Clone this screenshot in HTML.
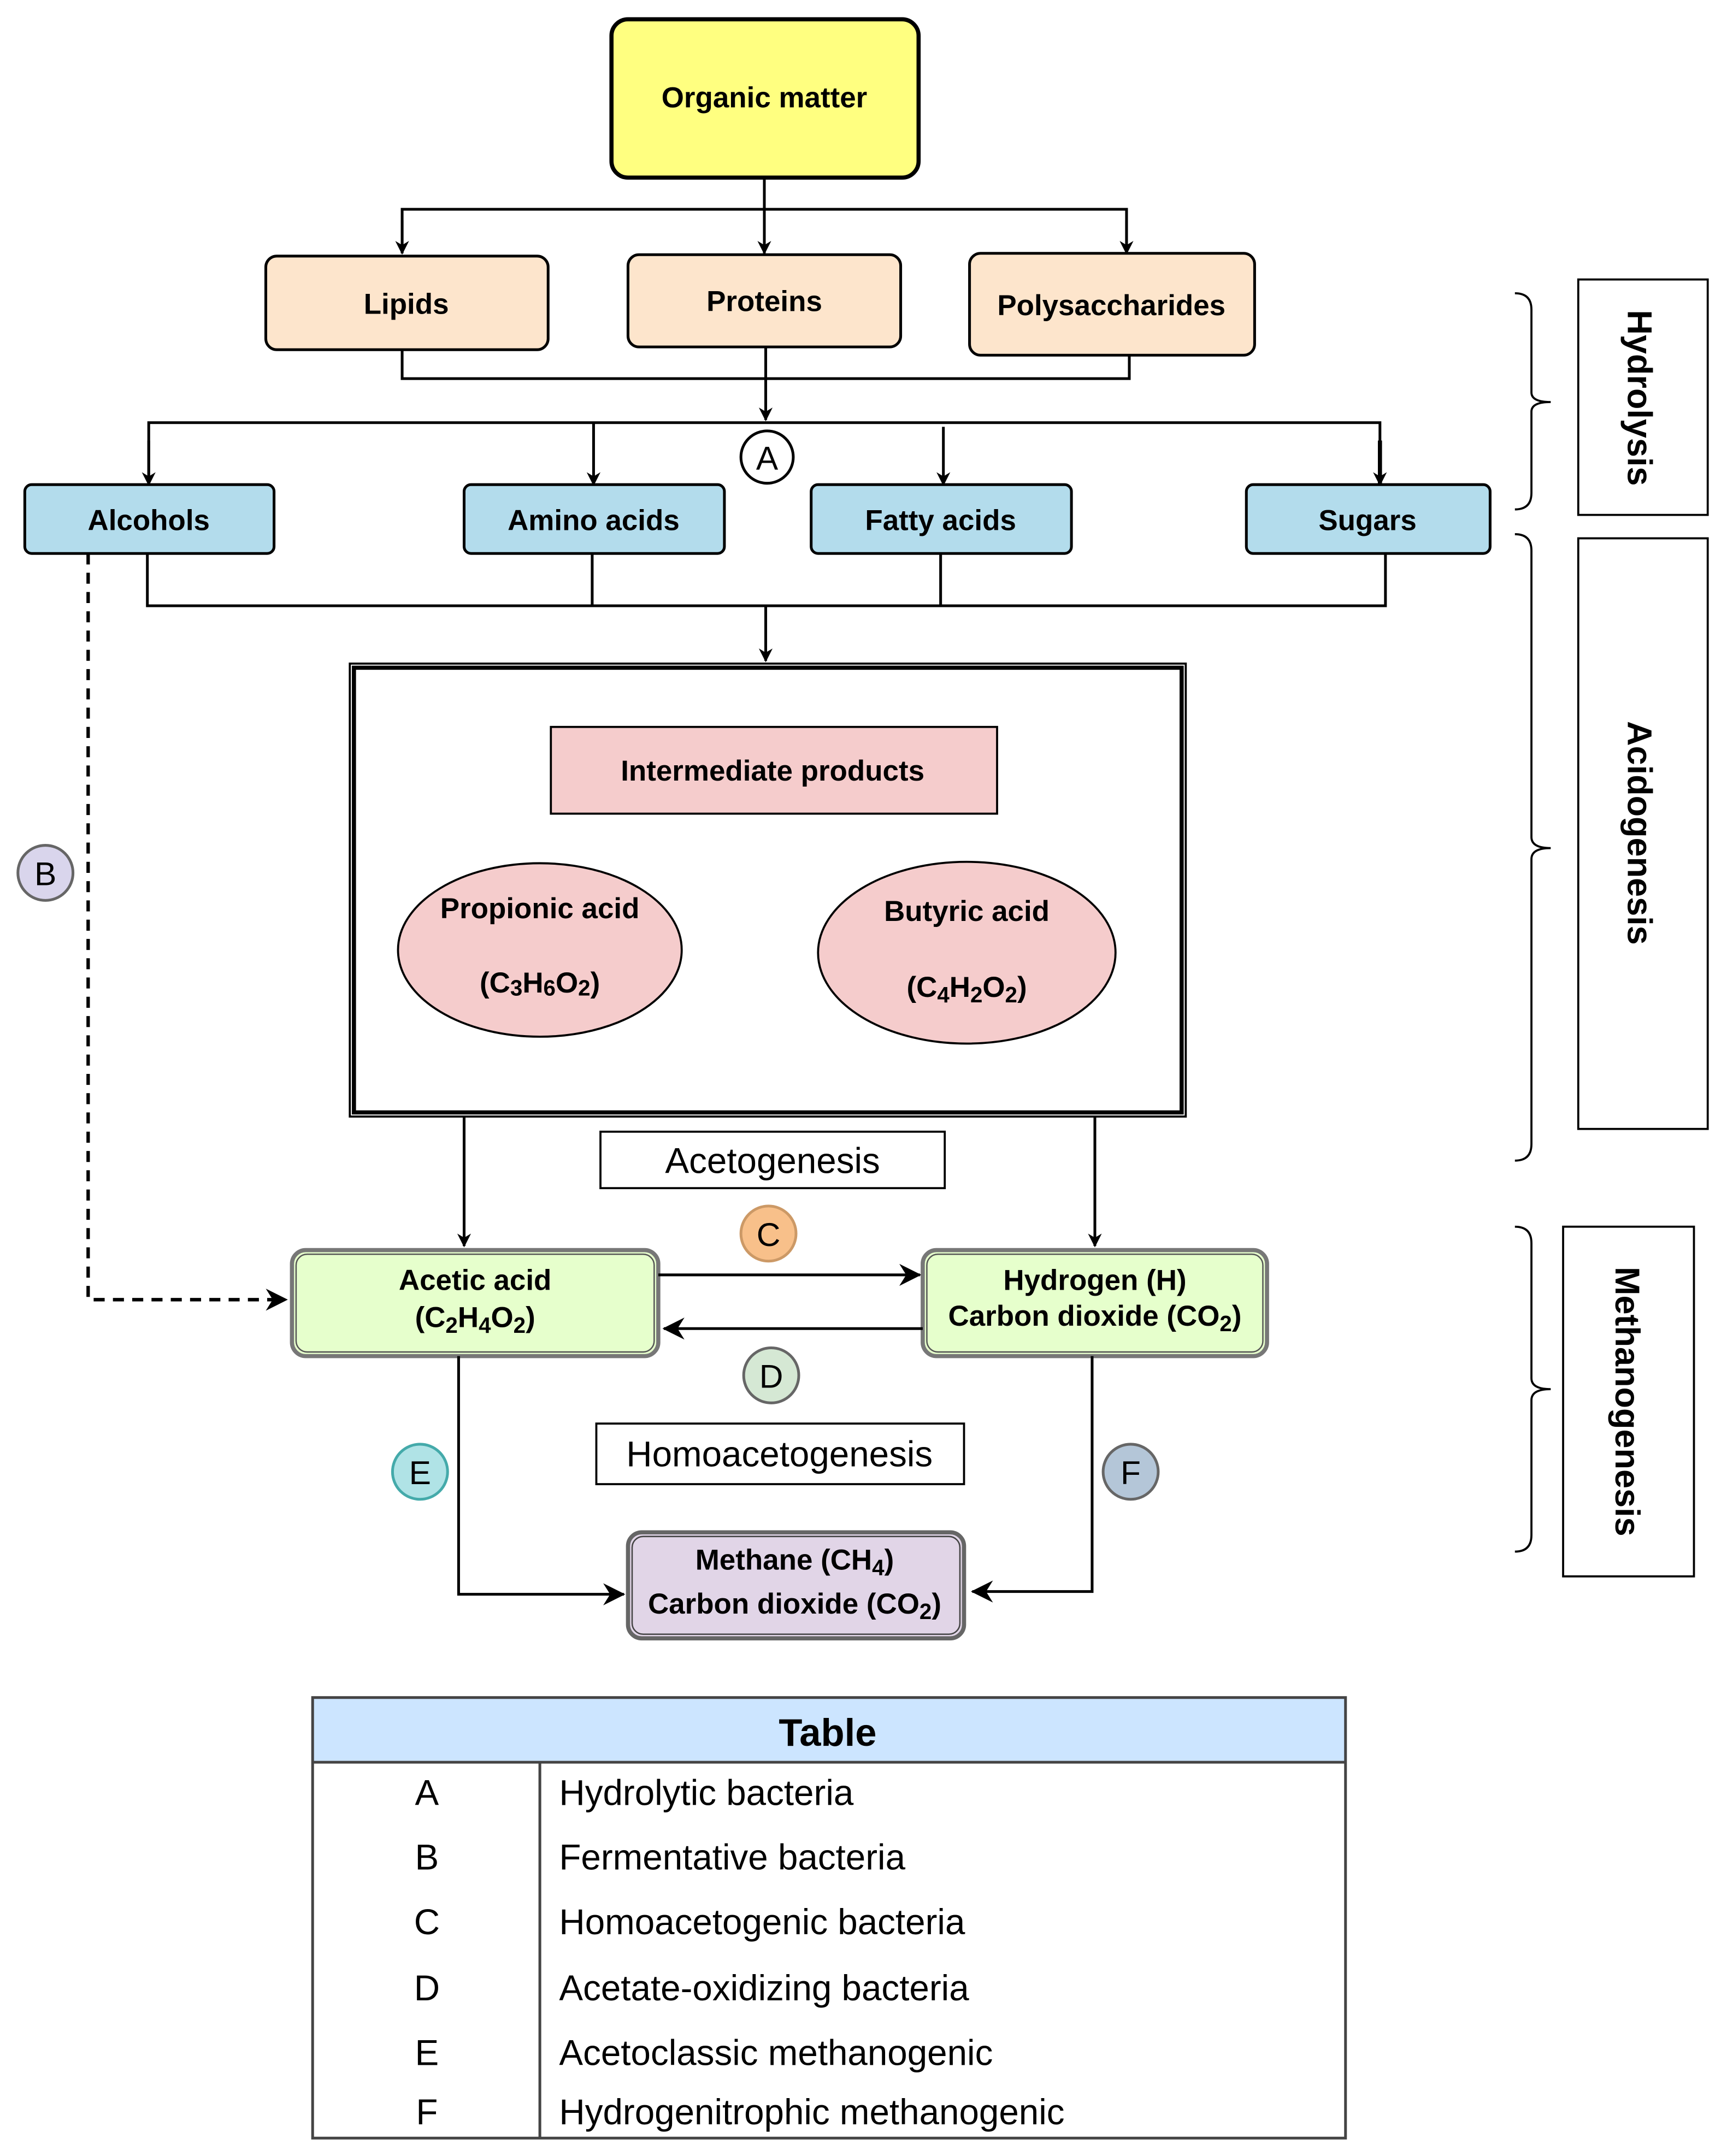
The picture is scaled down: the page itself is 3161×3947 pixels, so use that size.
<!DOCTYPE html>
<html><head><meta charset="utf-8"><style>
html,body{margin:0;padding:0;background:#fff}
svg{display:block}
text{font-family:"Liberation Sans",sans-serif;fill:#000}
</style></head><body>
<svg width="3161" height="3947" viewBox="0 0 1254 1566" preserveAspectRatio="none" xmlns="http://www.w3.org/2000/svg">
<defs>
<marker id="ar" markerWidth="10" markerHeight="10" refX="9" refY="5" orient="auto" markerUnits="userSpaceOnUse" viewBox="0 0 10 10">
<path d="M0,0 L10,5 L0,10 L3,5 Z" fill="#000"/></marker>
<marker id="ar2" markerWidth="16" markerHeight="16" refX="15" refY="8" orient="auto" markerUnits="userSpaceOnUse" viewBox="0 0 16 16">
<path d="M0,0 L16,8 L0,16 L5,8 Z" fill="#000"/></marker>
</defs>
<g stroke="#000" stroke-width="2" fill="none">
<rect x="444" y="14" width="223" height="115" rx="12" fill="#ffff80" stroke-width="3"/>
<path d="M555,129 V184" marker-end="url(#ar)"/>
<path d="M292,184 V152 H818 V184" />
<path d="M292,160 V184" marker-end="url(#ar)"/>
<path d="M818,160 V184" marker-end="url(#ar)"/>
<rect x="193" y="186" width="205" height="68" rx="8" fill="#fde5cc"/>
<rect x="456" y="185" width="198" height="67" rx="8" fill="#fde5cc"/>
<rect x="704" y="184" width="207" height="74" rx="8" fill="#fde5cc"/>
<path d="M292,254 V275 H820 V258"/>
<path d="M556,252 V305" marker-end="url(#ar)"/>
<path d="M108,352 V307 H1002 V352"/>
<path d="M108,320 V352" marker-end="url(#ar)"/>
<path d="M431,307 V352" marker-end="url(#ar)"/>
<path d="M685,310 V352" marker-end="url(#ar)"/>
<path d="M1002,320 V352" marker-end="url(#ar)" stroke-width="3"/>
<circle cx="557" cy="332" r="19" fill="#fff"/>
<rect x="18" y="352" width="181" height="50" rx="5" fill="#b3dcec"/>
<rect x="337" y="352" width="189" height="50" rx="5" fill="#b3dcec"/>
<rect x="589" y="352" width="189" height="50" rx="5" fill="#b3dcec"/>
<rect x="905" y="352" width="177" height="50" rx="5" fill="#b3dcec"/>
<path d="M107,402 V440 H1006 V402 M430,402 V440 M683,402 V440"/>
<path d="M556,440 V480" marker-end="url(#ar)"/>
<rect x="254" y="482" width="607" height="329" stroke-width="1.5"/>
<rect x="257" y="485" width="601" height="323" stroke-width="3"/>
<rect x="400" y="528" width="324" height="63" fill="#f5cccc" stroke-width="1.5"/>
<ellipse cx="392" cy="690" rx="103" ry="63" fill="#f5cccc" stroke-width="1.5"/>
<ellipse cx="702" cy="692" rx="108" ry="66" fill="#f5cccc" stroke-width="1.5"/>
<rect x="436" y="822" width="250" height="41" stroke-width="1.5"/>
<path d="M337,811 V905" marker-end="url(#ar)"/>
<path d="M795,811 V905" marker-end="url(#ar)"/>
<circle cx="33" cy="634" r="20" fill="#d9d5ec" stroke="#666"/>
<path d="M64,402 V944 H208" stroke-dasharray="8,6" stroke-width="2.5" marker-end="url(#ar2)"/>
<rect x="212" y="908" width="266" height="77" rx="10" fill="#e6ffcc" stroke="#777" stroke-width="3"/>
<rect x="215" y="911" width="260" height="71" rx="8" stroke="#555" stroke-width="1"/>
<rect x="670" y="908" width="250" height="77" rx="10" fill="#e6ffcc" stroke="#777" stroke-width="3"/>
<rect x="673" y="911" width="244" height="71" rx="8" stroke="#555" stroke-width="1"/>
<path d="M478,926 H668" marker-end="url(#ar2)"/>
<path d="M670,965 H482" marker-end="url(#ar2)"/>
<circle cx="558" cy="896" r="20" fill="#f8c08a" stroke="#c96"/>
<circle cx="560" cy="999" r="20" fill="#d5e8d4" stroke="#666"/>
<rect x="433" y="1034" width="267" height="44" stroke-width="1.5"/>
<circle cx="305" cy="1069" r="20" fill="#b0e3e6" stroke="#4aa"/>
<circle cx="821" cy="1069" r="20" fill="#b4c6d8" stroke="#666"/>
<path d="M333,985 V1158 H453" marker-end="url(#ar2)"/>
<path d="M793,985 V1156 H706" marker-end="url(#ar2)"/>
<rect x="456" y="1113" width="244" height="77" rx="10" fill="#e1d5e7" stroke="#666" stroke-width="3"/>
<rect x="459" y="1116" width="238" height="71" rx="8" stroke="#444" stroke-width="1"/>
<path d="M1100,213 Q1112,213 1112,225 V285 Q1112,292 1126,292 Q1112,292 1112,299 V358 Q1112,370 1100,370" stroke-width="1.5"/>
<path d="M1100,388 Q1112,388 1112,400 V608 Q1112,616 1126,616 Q1112,616 1112,624 V831 Q1112,843 1100,843" stroke-width="1.5"/>
<path d="M1100,891 Q1112,891 1112,903 V1001 Q1112,1009 1126,1009 Q1112,1009 1112,1017 V1115 Q1112,1127 1100,1127" stroke-width="1.5"/>
<rect x="1146" y="203" width="94" height="171" stroke-width="1.5"/>
<rect x="1146" y="391" width="94" height="429" stroke-width="1.5"/>
<rect x="1135" y="891" width="95" height="254" stroke-width="1.5"/>
<rect x="227" y="1233" width="750" height="47" fill="#cce5ff" stroke="none"/>
<rect x="227" y="1233" width="750" height="320" stroke="#444"/>
<path d="M227,1280 H977 M392,1280 V1553" stroke="#444"/>
</g>
<g font-weight="bold" font-size="21" text-anchor="middle">
<text x="555" y="78">Organic matter</text>
<text x="295" y="228">Lipids</text>
<text x="555" y="226">Proteins</text>
<text x="807" y="229">Polysaccharides</text>
<text x="108" y="385">Alcohols</text>
<text x="431" y="385">Amino acids</text>
<text x="683" y="385">Fatty acids</text>
<text x="993" y="385">Sugars</text>
<text x="561" y="567">Intermediate products</text>
<text x="392" y="667">Propionic acid</text>
<text x="392" y="721">(C<tspan font-size="16" dy="2">3</tspan><tspan dy="-2">H</tspan><tspan font-size="16" dy="2">6</tspan><tspan dy="-2">O</tspan><tspan font-size="16" dy="2">2</tspan><tspan dy="-2">)</tspan></text>
<text x="702" y="669">Butyric acid</text>
<text x="702" y="724">(C<tspan font-size="16" dy="4">4</tspan><tspan dy="-4">H</tspan><tspan font-size="16" dy="4">2</tspan><tspan dy="-4">O</tspan><tspan font-size="16" dy="4">2</tspan><tspan dy="-4">)</tspan></text>
<text x="345" y="937">Acetic acid</text>
<text x="345" y="964">(C<tspan font-size="16" dy="4">2</tspan><tspan dy="-4">H</tspan><tspan font-size="16" dy="4">4</tspan><tspan dy="-4">O</tspan><tspan font-size="16" dy="4">2</tspan><tspan dy="-4">)</tspan></text>
<text x="795" y="937">Hydrogen (H)</text>
<text x="795" y="963">Carbon dioxide (CO<tspan font-size="16" dy="4">2</tspan><tspan dy="-4">)</tspan></text>
<text x="577" y="1140">Methane (CH<tspan font-size="16" dy="4">4</tspan><tspan dy="-4">)</tspan></text>
<text x="577" y="1172">Carbon dioxide (CO<tspan font-size="16" dy="4">2</tspan><tspan dy="-4">)</tspan></text>
</g>
<g font-size="26" text-anchor="middle">
<text x="561" y="852">Acetogenesis</text>
<text x="566" y="1065">Homoacetogenesis</text>
</g>
<g font-size="24" text-anchor="middle">
<text x="557" y="341">A</text>
<text x="33" y="643">B</text>
<text x="558" y="905">C</text>
<text x="560" y="1008">D</text>
<text x="305" y="1078">E</text>
<text x="821" y="1078">F</text>
</g>
<g font-size="25" font-weight="bold">
<text transform="translate(1182,289) rotate(90)" text-anchor="middle">Hydrolysis</text>
<text transform="translate(1182,605) rotate(90)" text-anchor="middle">Acidogenesis</text>
<text transform="translate(1173,1018) rotate(90)" text-anchor="middle">Methanogenesis</text>
</g>
<text x="601" y="1268" font-size="28" font-weight="bold" text-anchor="middle">Table</text>
<g font-size="26">
<g text-anchor="middle">
<text x="310" y="1311">A</text><text x="310" y="1358">B</text><text x="310" y="1405">C</text>
<text x="310" y="1453">D</text><text x="310" y="1500">E</text><text x="310" y="1543">F</text>
</g>
<text x="406" y="1311">Hydrolytic bacteria</text>
<text x="406" y="1358">Fermentative bacteria</text>
<text x="406" y="1405">Homoacetogenic bacteria</text>
<text x="406" y="1453">Acetate-oxidizing bacteria</text>
<text x="406" y="1500">Acetoclassic methanogenic</text>
<text x="406" y="1543">Hydrogenitrophic methanogenic</text>
</g>
</svg>
</body></html>
